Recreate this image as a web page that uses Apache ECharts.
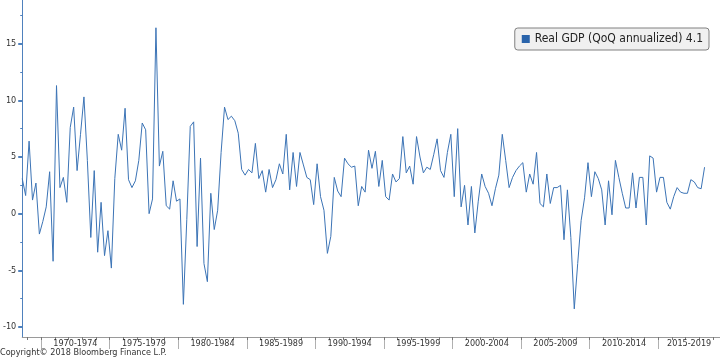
<!DOCTYPE html>
<html><head><meta charset="utf-8">
<script src="https://cdn.jsdelivr.net/npm/echarts@6/dist/echarts.min.js"></script>
<style>html,body{margin:0;padding:0;background:#fff}#c{width:720px;height:360px}</style>
</head><body><div id="c"></div>
<script>
// Data: US real GDP, QoQ annualized %, quarterly from 1968 Q3 to 2018 Q2
const startYear = 1968;
const startQuarter = 3;
const gdp = [
  3.1, 1.6,                 // 1968 Q3-Q4
  6.4, 1.2, 2.7, -1.8,      // 1969
  -0.7, 0.6, 3.7, -4.2,     // 1970
  11.3, 2.3, 3.2, 1.0,      // 1971
  7.6, 9.4, 3.8, 7.0,       // 1972
  10.3, 4.7, -2.1, 3.8,     // 1973
  -3.4, 1.0, -3.7, -1.5,    // 1974
  -4.8, 3.1, 7.0, 5.6,      // 1975
  9.3, 3.0, 2.3, 2.9,       // 1976
  4.7, 8.0, 7.4, 0.0,       // 1977
  1.3, 16.4, 4.2, 5.5,      // 1978
  0.7, 0.4, 2.9, 1.1,       // 1979
  1.3, -8.0, -0.5, 7.7,     // 1980
  8.1, -2.9, 4.9, -4.4,     // 1981
  -6.0, 1.8, -1.4, 0.3,     // 1982
  5.4, 9.4, 8.3, 8.6,       // 1983
  8.2, 7.1, 3.9, 3.4,       // 1984
  3.9, 3.6, 6.2, 3.1,       // 1985
  3.8, 1.9, 3.9, 2.3,       // 1986
  3.0, 4.4, 3.5, 7.0,       // 1987
  2.1, 5.4, 2.4, 5.4,       // 1988
  4.3, 3.2, 3.0, 0.8,       // 1989
  4.4, 1.5, 0.3, -3.5,      // 1990
  -2.0, 3.2, 2.0, 1.5,      // 1991
  4.9, 4.4, 4.1, 4.2,       // 1992
  0.7, 2.4, 1.9, 5.6,       // 1993
  4.0, 5.5, 2.4, 4.7,       // 1994
  1.5, 1.2, 3.5, 2.8,       // 1995
  3.1, 6.8, 3.6, 4.2,       // 1996
  2.6, 6.8, 5.0, 3.6,       // 1997
  4.1, 3.9, 5.2, 6.6,       // 1998
  3.8, 3.2, 5.4, 7.0,       // 1999
  1.5, 7.5, 0.6, 2.5,       // 2000
  -1.0, 2.4, -1.7, 1.1,     // 2001
  3.5, 2.4, 1.8, 0.7,       // 2002
  2.2, 3.4, 7.0, 4.7,       // 2003
  2.3, 3.2, 3.8, 4.2,       // 2004
  4.5, 1.9, 3.5, 2.6,       // 2005
  5.4, 0.9, 0.6, 3.5,       // 2006
  0.9, 2.3, 2.3, 2.5,       // 2007
  -2.3, 2.1, -2.1, -8.4,    // 2008
  -4.4, -0.6, 1.4, 4.5,     // 2009
  1.5, 3.7, 3.1, 2.1,       // 2010
  -1.0, 2.9, -0.1, 4.7,     // 2011
  3.2, 1.8, 0.5, 0.5,       // 2012
  3.6, 0.5, 3.2, 3.2,       // 2013
  -1.0, 5.1, 4.9, 1.9,      // 2014
  3.2, 3.2, 1.0, 0.4,       // 2015
  1.5, 2.3, 1.9, 1.8,       // 2016
  1.8, 3.0, 2.8, 2.3,       // 2017
  2.2, 4.1                  // 2018 Q1-Q2
];
const seriesName = 'Real GDP (QoQ annualized)';
const periodStarts = [1970, 1975, 1980, 1985, 1990, 1995, 2000, 2005, 2010, 2015];
const periodLabels = ['1970-1974', '1975-1979', '1980-1984', '1985-1989', '1990-1994',
                      '1995-1999', '2000-2004', '2005-2009', '2010-2014', '2015-2019'];
const yearTicks = [];
for (let y = 1969; y <= 2019; y++) yearTicks.push(y);
const yTicks = [-10, -5, 0, 5, 10, 15];
const yMinorTicks = [-7.5, -2.5, 2.5, 7.5, 12.5, 17.5];
const copyrightText = 'Copyright\u00a9 2018 Bloomberg Finance L.P.';

// axis extent
const xMin = 1968.625, xMax = 2019.5;
const yMin = -10.88, yMax = 18.85;

// quarter → position on a year scale (mid-quarter)
const points = gdp.map((v, i) => {
  const k = startQuarter - 1 + i;
  const year = startYear + Math.floor(k / 4);
  const q = (k % 4) + 1;
  return [year + (q - 0.5) / 4, v];
});
const labelPos = periodStarts.map(s => (s + Math.min(s + 5, xMax)) / 2);

const FONT = 'Tahoma, "DejaVu Sans Condensed", "DejaVu Sans", sans-serif';
const chart = echarts.init(document.getElementById('c'), null, {renderer: 'canvas'});
chart.setOption({
  animation: false,
  backgroundColor: '#ffffff',
  textStyle: {fontFamily: FONT},
  title: {
    text: copyrightText, left: 0, top: 348, padding: 0,
    textStyle: {fontSize: 9, fontWeight: 'normal', color: '#333', fontFamily: FONT}
  },
  grid: {left: 22, right: 0, top: 0, bottom: 23, containLabel: false},
  legend: {
    data: [{name: seriesName, icon: 'rect'}],
    right: 11, top: 28,
    backgroundColor: '#f0f0f0', borderColor: '#808080', borderWidth: 1, borderRadius: 3,
    padding: [5, 6, 5, 7],
    itemWidth: 8, itemHeight: 8,
    formatter: name => name + ' ' + gdp[gdp.length - 1].toFixed(1),
    textStyle: {fontSize: 12, color: '#222', fontFamily: FONT}
  },
  xAxis: [{
    type: 'value', min: xMin, max: xMax, position: 'bottom',
    axisLine: {show: true, onZero: false, lineStyle: {color: '#9a9a9a', width: 1}},
    axisTick: {show: true, customValues: periodStarts, length: 12, lineStyle: {color: '#b0b0b0', width: 1}},
    axisLabel: {
      show: true, customValues: labelPos, margin: 2, fontSize: 9, color: '#333', fontFamily: FONT,
      formatter: v => { const i = labelPos.findIndex(p => Math.abs(p - v) < 1e-6); return i >= 0 ? periodLabels[i] : ''; }
    },
    splitLine: {show: false}
  }, {
    type: 'value', min: xMin, max: xMax, position: 'bottom',
    axisLine: {show: false, onZero: false},
    axisTick: {show: true, customValues: yearTicks, length: 3, lineStyle: {color: '#777', width: 1}},
    axisLabel: {show: false},
    splitLine: {show: false}
  }],
  yAxis: [{
    type: 'value', min: yMin, max: yMax, position: 'left',
    axisLine: {show: true, onZero: false, lineStyle: {color: '#4f81bd', width: 1}},
    axisTick: {show: true, customValues: yTicks, length: 4, lineStyle: {color: '#4f81bd', width: 2}},
    axisLabel: {show: true, customValues: yTicks, margin: 6, fontSize: 9, color: '#333', fontFamily: FONT},
    splitLine: {show: false}
  }, {
    type: 'value', min: yMin, max: yMax, position: 'left', offset: 0,
    axisLine: {show: false, onZero: false},
    axisTick: {show: true, customValues: yMinorTicks, length: 2, lineStyle: {color: '#4f81bd', width: 1}},
    axisLabel: {show: false},
    splitLine: {show: false}
  }],
  series: [{
    name: seriesName, type: 'line', xAxisIndex: 0, yAxisIndex: 0,
    data: points, showSymbol: false, symbol: 'none',
    lineStyle: {color: '#3c74b6', width: 1},
    itemStyle: {color: '#2a64ab'},
    emphasis: {disabled: true}
  }]
});
</script>
</body></html>
